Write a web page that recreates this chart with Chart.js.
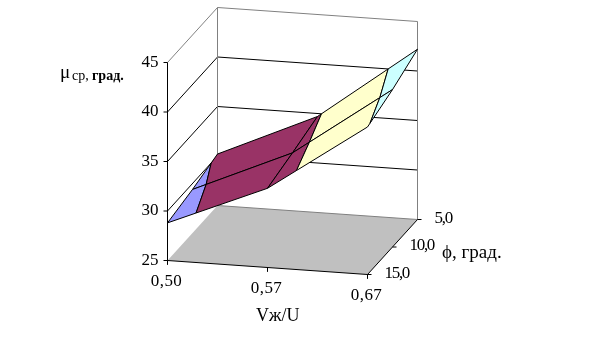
<!DOCTYPE html>
<html>
<head>
<meta charset="utf-8">
<style>
  html, body { margin: 0; padding: 0; background: #fff; }
  canvas { display: block; }
</style>
<script src="https://cdn.jsdelivr.net/npm/chart.js@4"></script>
</head>
<body>
<canvas id="surface-chart" width="593" height="349"></canvas>
<script>
const x_labels = ["0,50", "0,57", "0,67"];
const depth_labels = ["15,0", "10,0", "5,0"];   // front to back
const z_ticks = [25, 30, 35, 40, 45];

const angle_15 = [28.8, 33.0, 39.9];
const angle_10 = [29.4, 33.8, 40.9];
const angle_5 = [30.2, 34.7, 42.2];
const rows = [angle_15, angle_10, angle_5];

const band_colours = ["#9999FF", "#993366", "#FFFFCC", "#CCFFFF"];

// parallel projection of the Excel 3D box onto the page
function project(u, v, z) {
    return {
        x: 167.5 + 200 * u + 50 * v,
        y: 260.5 + 14 * u - 55 * v - (z - z_ticks[0]) * 9.9
    };
}

function clipBand(poly, limit, keep_above) {
    const out = [];
    for (let i = 0; i < poly.length; i++) {
        const a = poly[i];
        const b = poly[(i + 1) % poly.length];
        const a_in = keep_above ? a.z >= limit : a.z <= limit;
        const b_in = keep_above ? b.z >= limit : b.z <= limit;
        if (a_in) out.push(a);
        if (a_in != b_in) {
            const t = (limit - a.z) / (b.z - a.z);
            out.push({u: a.u + (b.u - a.u) * t, v: a.v + (b.v - a.v) * t, z: limit});
        }
    }
    return out;
}

function closed(points) {
    return points.concat([points[0]]).map(p => project(p.u, p.v, p.z));
}

const painted = [];   // in painting order, first is lowest

function addLine(points, colour) {
    painted.push({
        data: points.map(p => project(p[0], p[1], p[2])),
        showLine: true,
        fill: false,
        borderColor: colour,
        borderWidth: 1,
        pointRadius: 0
    });
}

function addPolygon(points, colour, border) {
    painted.push({
        data: closed(points),
        showLine: true,
        fill: "shape",
        backgroundColor: colour,
        borderColor: border || colour,
        borderWidth: border ? 1 : 0,
        pointRadius: 0
    });
}

const z_min = z_ticks[0];
const z_max = z_ticks[z_ticks.length - 1];

// walls
z_ticks.slice(1).forEach(z => {
    addLine([[0, 0, z], [0, 1, z], [1, 1, z]], z == z_max ? "#808080" : "#000");
});
addLine([[0, 1, z_min], [0, 1, z_max]], "#808080");
addLine([[1, 1, z_min], [1, 1, z_max]], "#808080");

// floor
addPolygon([{u: 0, v: 0, z: z_min}, {u: 1, v: 0, z: z_min}, {u: 1, v: 1, z: z_min}, {u: 0, v: 1, z: z_min}], "#C0C0C0");
addLine([[0, 1, z_min], [1, 1, z_min]], "#808080");
addLine([[0, 0, z_min], [1, 0, z_min], [1, 1, z_min]], "#000");
addLine([[0, 0, z_min], [0, 0, z_max]], "#000");

// ticks
z_ticks.forEach(z => {
    const p = project(0, 0, z);
    painted.push({data: [p, {x: p.x - 4, y: p.y}], showLine: true, fill: false, borderColor: "#000", borderWidth: 1, pointRadius: 0});
});
x_labels.forEach((label, i) => {
    const p = project(i / (x_labels.length - 1), 0, z_min);
    painted.push({data: [p, {x: p.x, y: p.y + 4}], showLine: true, fill: false, borderColor: "#000", borderWidth: 1, pointRadius: 0});
});
depth_labels.forEach((label, i) => {
    const p = project(1, i / (depth_labels.length - 1), z_min);
    painted.push({data: [p, {x: p.x + 4, y: p.y}], showLine: true, fill: false, borderColor: "#000", borderWidth: 1, pointRadius: 0});
});

// surface, back row first, split by value band
for (let j = rows.length - 2; j >= 0; j--) {
    for (let i = 0; i < x_labels.length - 1; i++) {
        const u0 = i / (x_labels.length - 1);
        const u1 = (i + 1) / (x_labels.length - 1);
        const v0 = j / (rows.length - 1);
        const v1 = (j + 1) / (rows.length - 1);
        const cell = [
            {u: u0, v: v0, z: rows[j][i]},
            {u: u1, v: v0, z: rows[j][i + 1]},
            {u: u1, v: v1, z: rows[j + 1][i + 1]},
            {u: u0, v: v1, z: rows[j + 1][i]}
        ];
        band_colours.forEach((colour, b) => {
            let poly = clipBand(cell, z_ticks[b], true);
            if (poly.length) poly = clipBand(poly, z_ticks[b + 1], false);
            if (poly.length > 2) addPolygon(poly, colour, "#000");
        });
    }
}

// first dataset is drawn on top, so hand them over reversed
const datasets = painted.slice().reverse();

const text_plugin = {
    id: "surfaceText",
    afterDraw(chart) {
        const ctx = chart.ctx;
        const to_px = p => ({x: chart.scales.x.getPixelForValue(p.x), y: chart.scales.y.getPixelForValue(p.y)});

        function put(text, x, y, font, align, spacing) {
            ctx.font = font;
            ctx.textAlign = align;
            ctx.textBaseline = "middle";
            ctx.letterSpacing = spacing || "0px";
            ctx.fillStyle = "#000";
            ctx.fillText(text, x, y);
        }

        const tick_font = "17px 'Liberation Serif'";
        z_ticks.forEach(z => {
            const p = to_px(project(0, 0, z));
            put(String(z), p.x - 9, p.y, tick_font, "right");
        });
        x_labels.forEach((label, i) => {
            const p = to_px(project(i / (x_labels.length - 1), 0, z_min));
            put(label, p.x - 1, p.y + 21, tick_font, "center", "0.4px");
        });
        depth_labels.forEach((label, i) => {
            const p = to_px(project(1, i / (depth_labels.length - 1), z_min));
            put(label, p.x + 17, p.y - 1, tick_font, "left", "-1.3px");
        });

        put("Vж/U", 256, 316, "18px 'Liberation Serif'", "left");
        put("ϕ, град.", 442, 253, "19px 'Liberation Serif'", "left");
        put("μ", 60, 73, "19px 'Liberation Serif'", "left");
        put("ср,", 72, 76, "14px 'Liberation Serif'", "left");
        put("град.", 92, 76, "bold 14px 'Liberation Serif'", "left");
    }
};

new Chart(document.getElementById("surface-chart"), {
    type: "scatter",
    data: {datasets: datasets},
    options: {
        responsive: false,
        animation: false,
        layout: {padding: 0},
        plugins: {legend: {display: false}, tooltip: {enabled: false}},
        scales: {
            x: {type: "linear", display: false, min: 0, max: 593},
            y: {type: "linear", display: false, min: 0, max: 349, reverse: true}
        }
    },
    plugins: [text_plugin]
});
</script>
</body>
</html>
